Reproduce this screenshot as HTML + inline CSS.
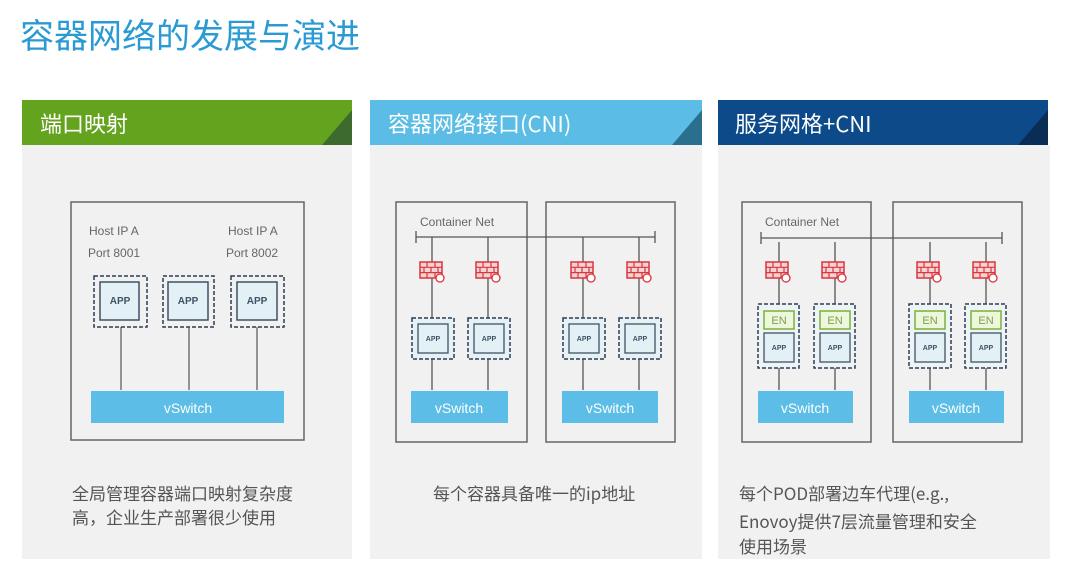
<!DOCTYPE html>
<html><head><meta charset="utf-8"><style>
body{margin:0;width:1080px;height:576px;background:#fff;overflow:hidden;font-family:"Liberation Sans","Noto Sans CJK SC",sans-serif}
</style></head><body>
<svg width="1080" height="576" xmlns="http://www.w3.org/2000/svg" font-family="Liberation Sans, Noto Sans CJK SC, sans-serif">
<defs>
<g id="fw">
<rect x="0" y="0" width="22" height="16" fill="#f6d3d3" stroke="#d9363e" stroke-width="1.5"/>
<path d="M0 5.3H22M0 10.6H22M7 0V5.3M15 0V5.3M4 5.3V10.6M11 5.3V10.6M18 5.3V10.6M7 10.6V16M15 10.6V16" stroke="#d9363e" stroke-width="1.2"/>
<circle cx="20" cy="16" r="4" fill="#fff" stroke="#d9363e" stroke-width="1.3"/>
</g>
</defs>
<text x="20" y="48" font-size="34" fill="#2a9ad3" font-family="Noto Sans CJK SC, sans-serif">容器网络的发展与演进</text>

<!-- panel 1 -->
<rect x="22" y="145" width="330" height="414" fill="#f1f1f1"/>
<rect x="22" y="100" width="330" height="45" fill="#64a31d"/>
<polygon points="352,110 352,145 322,145" fill="#3d6b2e"/>
<text x="40" y="132" font-size="22" fill="#fff" font-family="Noto Sans CJK SC, sans-serif">端口映射</text>
<rect x="71" y="202" width="233" height="238" fill="none" stroke="#666" stroke-width="1.5"/>
<g font-size="12" fill="#666"><text x="89" y="235">Host IP A</text><text x="88" y="257">Port 8001</text><text x="228" y="235">Host IP A</text><text x="226" y="257">Port 8002</text></g>
<g stroke="#555" stroke-width="1.2"><line x1="121" y1="327" x2="121" y2="390"/><line x1="189" y1="327" x2="189" y2="390"/><line x1="257" y1="327" x2="257" y2="390"/></g>
<g fill="none" stroke="#2c3e55" stroke-width="1.5" stroke-dasharray="4,2"><rect x="94" y="276" width="53" height="51"/><rect x="163" y="276" width="51" height="51"/><rect x="231" y="276" width="53" height="51"/></g>
<g fill="#e3f0f5" stroke="#3e5366" stroke-width="1.5"><rect x="100" y="282" width="39" height="38"/><rect x="168" y="282" width="40" height="38"/><rect x="237" y="282" width="40" height="38"/></g>
<g font-size="10" font-weight="bold" fill="#3e5366" text-anchor="middle"><text x="120" y="304">APP</text><text x="188" y="304">APP</text><text x="257" y="304">APP</text></g>
<rect x="91" y="391" width="193" height="32" fill="#5cbde6"/>
<text x="188" y="413" font-size="14" fill="#fff" text-anchor="middle">vSwitch</text>
<g font-size="17" fill="#555" font-family="Noto Sans CJK SC, sans-serif"><text x="72" y="500">全局管理容器端口映射复杂度</text><text x="72" y="524">高，企业生产部署很少使用</text></g>

<!-- panel 2 -->
<rect x="370" y="145" width="332" height="414" fill="#f1f1f1"/>
<rect x="370" y="100" width="332" height="45" fill="#5bbde5"/>
<polygon points="702,110 702,145 672,145" fill="#2b6f8f"/>
<text x="388" y="132" font-size="22" fill="#fff" font-family="Noto Sans CJK SC, sans-serif">容器网络接口(CNI)</text>
<g fill="none" stroke="#666" stroke-width="1.5"><rect x="396" y="202" width="131" height="240"/><rect x="546" y="202" width="129" height="240"/></g>
<rect x="528" y="228" width="17" height="20" fill="#f1f1f1"/>
<text x="420" y="226" font-size="12" fill="#666">Container Net</text>
<g stroke="#555" stroke-width="1.3"><line x1="416" y1="237" x2="655" y2="237"/><line x1="416" y1="231" x2="416" y2="243"/><line x1="655" y1="231" x2="655" y2="243"/>
<line x1="432" y1="237" x2="432" y2="390"/><line x1="488" y1="237" x2="488" y2="390"/><line x1="583" y1="237" x2="583" y2="390"/><line x1="639" y1="237" x2="639" y2="390"/></g>
<use href="#fw" x="420" y="262"/><use href="#fw" x="476" y="262"/><use href="#fw" x="571" y="262"/><use href="#fw" x="627" y="262"/>
<g fill="#e6f1f6" stroke="#2c3e55" stroke-width="1.5" stroke-dasharray="4,2"><rect x="412" y="318" width="42" height="41"/><rect x="468" y="318" width="42" height="41"/><rect x="563" y="318" width="42" height="41"/><rect x="619" y="318" width="42" height="41"/></g>
<g fill="#e3f0f5" stroke="#3e5366" stroke-width="1.3"><rect x="418" y="324" width="30" height="29"/><rect x="474" y="324" width="30" height="29"/><rect x="569" y="324" width="30" height="29"/><rect x="625" y="324" width="30" height="29"/></g>
<g font-size="7" font-weight="bold" fill="#3e5366" text-anchor="middle"><text x="433" y="341">APP</text><text x="489" y="341">APP</text><text x="584" y="341">APP</text><text x="640" y="341">APP</text></g>
<rect x="411" y="391" width="97" height="32" fill="#5cbde6"/><rect x="562" y="391" width="96" height="32" fill="#5cbde6"/>
<g font-size="14" fill="#fff" text-anchor="middle"><text x="459" y="413">vSwitch</text><text x="610" y="413">vSwitch</text></g>
<text x="433" y="500" font-size="17" fill="#555" font-family="Noto Sans CJK SC, sans-serif">每个容器具备唯一的ip地址</text>

<!-- panel 3 -->
<rect x="718" y="145" width="332" height="414" fill="#f1f1f1"/>
<rect x="718" y="100" width="330" height="45" fill="#0c4a8a"/>
<polygon points="1048,110 1048,145 1018,145" fill="#0a2d55"/>
<text x="735" y="132" font-size="22" fill="#fff" font-family="Noto Sans CJK SC, sans-serif">服务网格+CNI</text>
<g fill="none" stroke="#666" stroke-width="1.5"><rect x="742" y="202" width="129" height="240"/><rect x="893" y="202" width="129" height="240"/></g>
<rect x="872" y="228" width="20" height="20" fill="#f1f1f1"/>
<text x="765" y="226" font-size="12" fill="#666">Container Net</text>
<g stroke="#555" stroke-width="1.3"><line x1="761" y1="238" x2="1002" y2="238"/><line x1="761" y1="232" x2="761" y2="244"/><line x1="1002" y1="232" x2="1002" y2="244"/>
<line x1="779" y1="242" x2="779" y2="390"/><line x1="835" y1="242" x2="835" y2="390"/><line x1="930" y1="242" x2="930" y2="390"/><line x1="986" y1="242" x2="986" y2="390"/></g>
<use href="#fw" x="766" y="262"/><use href="#fw" x="822" y="262"/><use href="#fw" x="917" y="262"/><use href="#fw" x="973" y="262"/>
<g fill="#eef4f6" stroke="#2c3e55" stroke-width="1.5" stroke-dasharray="4,2"><rect x="758" y="304" width="41" height="64"/><rect x="814" y="304" width="41" height="64"/><rect x="909" y="304" width="42" height="64"/><rect x="965" y="304" width="41" height="64"/></g>
<g fill="#eef7dc" stroke="#78b23a" stroke-width="1.5"><rect x="764" y="311" width="30" height="18"/><rect x="820" y="311" width="30" height="18"/><rect x="915" y="311" width="30" height="18"/><rect x="971" y="311" width="30" height="18"/></g>
<g font-size="11" fill="#78a050" text-anchor="middle"><text x="779" y="324">EN</text><text x="835" y="324">EN</text><text x="930" y="324">EN</text><text x="986" y="324">EN</text></g>
<g fill="#e3f0f5" stroke="#3e5366" stroke-width="1.3"><rect x="764" y="333" width="30" height="29"/><rect x="820" y="333" width="30" height="29"/><rect x="915" y="333" width="30" height="29"/><rect x="971" y="333" width="30" height="29"/></g>
<g font-size="7" font-weight="bold" fill="#3e5366" text-anchor="middle"><text x="779" y="350">APP</text><text x="835" y="350">APP</text><text x="930" y="350">APP</text><text x="986" y="350">APP</text></g>
<rect x="758" y="391" width="95" height="32" fill="#5cbde6"/><rect x="909" y="391" width="95" height="32" fill="#5cbde6"/>
<g font-size="14" fill="#fff" text-anchor="middle"><text x="805" y="413">vSwitch</text><text x="956" y="413">vSwitch</text></g>
<g font-size="17" fill="#555" font-family="Noto Sans CJK SC, sans-serif"><text x="739" y="500">每个POD部署边车代理(e.g.,</text><text x="739" y="528">Enovoy提供7层流量管理和安全</text><text x="739" y="553">使用场景</text></g>
</svg>
</body></html>
